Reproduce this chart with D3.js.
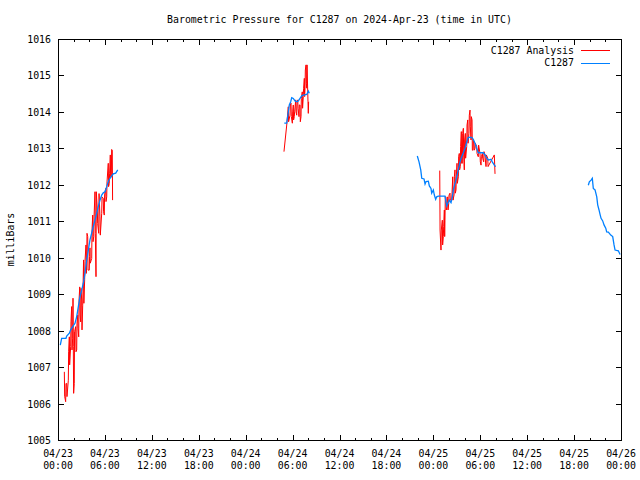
<!DOCTYPE html>
<html><head><meta charset="utf-8">
<script src="https://cdn.jsdelivr.net/npm/d3@7"></script>
<style>body{margin:0;background:#fff}svg{display:block}</style>
</head><body><svg id="c" width="640" height="480"></svg>
<script>
const chartTitle = "Barometric Pressure for C1287 on 2024-Apr-23 (time in UTC)";
const yAxisLabel = "milliBars";
const seriesNames = ["C1287 Analysis", "C1287"];
const seriesColors = ["#ff0000", "#0080ff"];
const yTickValues = [1005,1006,1007,1008,1009,1010,1011,1012,1013,1014,1015,1016];
const timeStart = Date.UTC(2024, 3, 23, 0, 0);
const timeEnd = Date.UTC(2024, 3, 26, 0, 0);

// Analysis (red): strokes [hours since 04/23 00:00, high, low] or [hours, value]
const analysis1 = [
 [0.81,1006.87,1006.20],[0.98,1006.55,1006.05],[1.11,1006.55,1006.19],[1.32,1007.42,1006.64],
 [1.45,1007.83,1007.06],[1.62,1008.24,1007.56],[1.75,1008.66,1007.47],[1.88,1008.89,1007.79],
 [1.96,1007.56,1006.28],[2.08,1007.97,1006.55],[2.26,1008.11,1007.42],[2.39,1008.20,1007.47],
 [2.52,1008.43,1008.06],[2.65,1008.84,1007.83],[2.78,1009.20,1008.43],[2.90,1009.16,1008.24],
 [3.03,1008.84,1008.02],[3.16,1009.16,1008.70],[3.27,1009.94,1008.75],[3.41,1009.90,1009.40],
 [3.58,1010.35,1009.57],[3.67,1010.67,1009.85],[3.80,1010.58,1009.66],[4.00,1010.03,1009.66],
 [4.09,1010.27,1009.85],[4.31,1010.76,1009.98],[4.44,1011.17,1010.44],[4.57,1011.12,1010.58],
 [4.73,1011.81,1010.67],[4.86,1011.81,1009.48],[5.03,1011.31,1010.94],[5.21,1011.76,1010.67],
 [5.37,1011.12,1010.62],[5.59,1011.67,1011.22],[5.79,1011.63,1011.26],[5.92,1011.72,1011.17],
 [6.10,1011.90,1011.54],[6.23,1012.08,1011.67],[6.43,1012.59,1011.95],[6.56,1012.32,1012.04],
 [6.69,1012.82,1012.22],[6.82,1012.97,1012.22],[6.94,1012.95,1011.58]
];
const analysis2 = [
 [28.90,1012.91],[29.25,1013.64],[29.45,1014.14,1013.73],[29.67,1014.19,1013.91],
 [29.80,1014.24,1013.87],[29.97,1014.00,1013.69],[30.09,1014.19,1013.78],[30.22,1014.00,1013.87],
 [30.40,1014.33,1014.00],[30.53,1014.28,1013.91],[30.66,1014.33,1014.10],[30.82,1014.19,1013.87],
 [30.95,1014.19,1013.73],[31.08,1014.37,1013.87],[31.24,1014.55,1014.10],[31.37,1014.65,1014.42],
 [31.50,1014.92,1014.42],[31.59,1015.15,1014.65],[31.72,1015.29,1014.78],[31.81,1015.29,1014.65],
 [31.93,1014.60,1014.28],[32.01,1014.28,1013.96]
];
const analysis3 = [
 [48.82,1012.39,1010.76],[48.98,1010.76,1010.21],[49.15,1011.03,1010.35],[49.28,1010.85,1010.58],
 [49.41,1011.31,1010.58],[49.49,1011.67,1011.03],[49.62,1011.67,1011.31],[49.75,1011.63,1011.40],
 [49.84,1011.67,1011.31],[49.97,1011.72,1011.49],[50.13,1011.77,1011.58],[50.35,1011.77,1011.58],
 [50.48,1012.22,1011.58],[50.65,1012.22,1011.72],[50.77,1012.41,1011.77],[50.90,1012.22,1011.86],
 [51.03,1012.59,1012.04],[51.20,1012.77,1012.22],[51.32,1012.86,1012.41],[51.45,1013.05,1012.50],
 [51.58,1013.46,1012.59],[51.71,1013.41,1012.59],[51.84,1013.55,1012.82],[51.96,1013.23,1012.41],
 [52.09,1013.41,1012.73],[52.27,1013.64,1013.05],[52.40,1013.78,1013.14],[52.56,1013.91,1013.41],
 [52.69,1014.05,1013.59],[52.82,1013.87,1013.23],[52.95,1013.78,1012.95],[53.08,1013.23,1012.95],
 [53.20,1013.14,1012.95],[53.33,1013.14,1013.00],[53.55,1013.05,1012.86],[53.75,1013.09,1012.77],
 [53.97,1012.86,1012.63],[54.10,1012.77,1012.54],[54.27,1012.86,1012.73],[54.44,1012.91,1012.63],
 [54.61,1012.82,1012.68],[54.74,1012.82,1012.50],[54.96,1012.73,1012.50],[55.80,1012.82],[55.89,1012.30]
];

// Observed (blue): [hours since 04/23 00:00, value]
const observed1 = [
 [0.29,1007.60],[0.47,1007.79],[1.02,1007.79],[1.11,1007.85],[1.45,1007.93],[1.62,1008.02],
 [1.88,1008.11],[2.17,1008.20],[2.39,1008.38],[2.60,1008.66],[2.81,1008.93],[3.03,1009.11],
 [3.24,1009.30],[3.45,1009.57],[3.67,1009.94],[3.88,1010.21],[4.09,1010.49],[4.31,1010.68],
 [4.51,1010.85],[4.73,1011.03],[4.95,1011.22],[5.15,1011.40],[5.37,1011.58],[5.59,1011.72],
 [5.79,1011.78],[6.01,1011.81],[6.23,1011.95],[6.43,1012.09],[6.65,1012.18],[7.07,1012.30],
 [7.38,1012.32],[7.64,1012.41]
];
const observed2 = [
 [28.94,1013.69],[29.25,1013.69],[29.58,1014.19],[29.76,1014.28],[29.89,1014.39],[30.09,1014.37],
 [30.31,1014.30],[30.53,1014.28],[30.73,1014.30],[30.95,1014.37],[31.17,1014.44],[31.37,1014.46],
 [31.81,1014.48],[32.01,1014.57],[32.14,1014.51]
];
const observed3 = [
 [45.95,1012.79],[46.17,1012.63],[46.39,1012.41],[46.52,1012.18],[46.81,1012.16],[46.94,1012.02],
 [47.07,1012.09],[47.36,1012.10],[47.49,1011.97],[47.70,1011.90],[47.79,1011.77],[48.00,1011.86],
 [48.13,1011.72],[48.30,1011.60],[48.43,1011.67],[48.64,1011.69],[49.49,1011.69],[49.58,1011.58],
 [49.71,1011.42],[49.84,1011.49],[50.04,1011.58],[50.26,1011.51],[50.43,1011.67],[50.56,1011.86],
 [50.77,1012.04],[50.99,1012.22],[51.19,1012.41],[51.41,1012.63],[51.63,1012.77],[51.84,1012.88],
 [52.05,1013.00],[52.27,1013.18],[52.47,1013.30],[52.91,1013.30],[53.11,1013.25],[53.33,1013.14],
 [53.55,1013.00],[53.75,1012.88],[54.39,1012.88],[54.61,1012.82],[54.83,1012.73],[55.03,1012.68],
 [55.38,1012.70],[55.54,1012.63],[55.80,1012.54],[55.98,1012.50]
];
const observed4 = [
 [67.82,1011.99],[67.95,1012.08],[68.17,1012.13],[68.33,1012.18],[68.46,1011.90],[68.68,1011.86],
 [68.90,1011.67],[69.02,1011.45],[69.19,1011.31],[69.32,1011.19],[69.45,1011.08],[69.66,1011.01],
 [69.83,1010.90],[70.05,1010.81],[70.17,1010.71],[70.38,1010.70],[70.69,1010.62],[70.94,1010.58],
 [71.11,1010.35],[71.24,1010.21],[71.66,1010.19],[71.88,1010.09]
];

const FONT = "'DejaVu Sans Mono', 'Liberation Mono', monospace";
const L = 58, R = 621, T = 39, B = 440;
const svg = d3.select("#c");
const toDate = h => new Date(timeStart + h * 3600e3);
const x = d3.scaleUtc().domain([new Date(timeStart), new Date(timeEnd)]).range([L, R]);
const y = d3.scaleLinear().domain([1005, 1016]).range([B, T]);

const g = svg.append("g").attr("font-family", FONT).attr("font-size", "9.9px").attr("fill", "#000");

// frame
g.append("rect").attr("x", L + 0.5).attr("y", T + 0.5).attr("width", R - L).attr("height", B - T)
 .attr("fill", "none").attr("stroke", "#000").attr("stroke-width", 1).attr("shape-rendering", "crispEdges");

// y ticks
yTickValues.forEach(v => {
  const yy = Math.round(y(v)) + 0.5;
  g.append("line").attr("x1", L).attr("x2", L + 6).attr("y1", yy).attr("y2", yy).attr("stroke", "#000").attr("shape-rendering", "crispEdges");
  g.append("line").attr("x1", R + 1).attr("x2", R - 5).attr("y1", yy).attr("y2", yy).attr("stroke", "#000").attr("shape-rendering", "crispEdges");
  g.append("text").attr("x", 51).attr("y", yy + 3.5).attr("text-anchor", "end").text(v);
});

// x ticks
const minorT = x.ticks(d3.utcHour.every(2));
minorT.forEach(d => {
  const xx = Math.round(x(d)) + 0.5;
  const major = d.getUTCHours() % 6 === 0;
  const len = major ? 6 : 3;
  g.append("line").attr("x1", xx).attr("x2", xx).attr("y1", B + 1).attr("y2", B + 1 - len).attr("stroke", "#000").attr("shape-rendering", "crispEdges");
  g.append("line").attr("x1", xx).attr("x2", xx).attr("y1", T).attr("y2", T + len).attr("stroke", "#000").attr("shape-rendering", "crispEdges");
});
const fmtDay = d3.utcFormat("%m/%d"), fmtHour = d3.utcFormat("%H:%M");
x.ticks(d3.utcHour.every(6)).forEach(d => {
  const xx = x(d);
  g.append("text").attr("x", xx).attr("y", 457).attr("text-anchor", "middle").text(fmtDay(d));
  g.append("text").attr("x", xx).attr("y", 469).attr("text-anchor", "middle").text(fmtHour(d));
});

// title & y label
g.append("text").attr("x", (L + R) / 2).attr("y", 23).attr("text-anchor", "middle").text(chartTitle);
g.append("text").attr("transform", `translate(14,${(T + B) / 2}) rotate(-90)`).attr("text-anchor", "middle").text(yAxisLabel);

// data
const line = d3.line().x(d => x(toDate(d[0]))).y(d => y(d[1]));
function strokesToPoints(strokes) {
  const pts = [];
  strokes.forEach((s, i) => {
    if (s.length === 2) { pts.push([s[0], s[1]]); return; }
    if (i % 2 === 0) { pts.push([s[0], s[1]]); pts.push([s[0] + 0.04, s[2]]); }
    else { pts.push([s[0], s[2]]); pts.push([s[0] + 0.04, s[1]]); }
  });
  return pts;
}
const plot = svg.append("g");
[analysis1, analysis2, analysis3].forEach(seg => {
  plot.append("path").attr("d", line(strokesToPoints(seg))).attr("fill", "none")
    .attr("stroke", seriesColors[0]).attr("stroke-width", 1);
});
[observed1, observed2, observed3, observed4].forEach(seg => {
  plot.append("path").attr("d", line(seg)).attr("fill", "none")
    .attr("stroke", seriesColors[1]).attr("stroke-width", 1.3);
});

// legend
seriesNames.forEach((name, i) => {
  const yy = 50 + i * 12.5;
  g.append("text").attr("x", 574).attr("y", yy + 3.5).attr("text-anchor", "end").text(name);
  g.append("line").attr("x1", 581).attr("x2", 610).attr("y1", Math.round(yy) + 0.5).attr("y2", Math.round(yy) + 0.5)
    .attr("stroke", seriesColors[i]).attr("stroke-width", 1.2).attr("shape-rendering", "crispEdges");
});
</script>
</body></html>
